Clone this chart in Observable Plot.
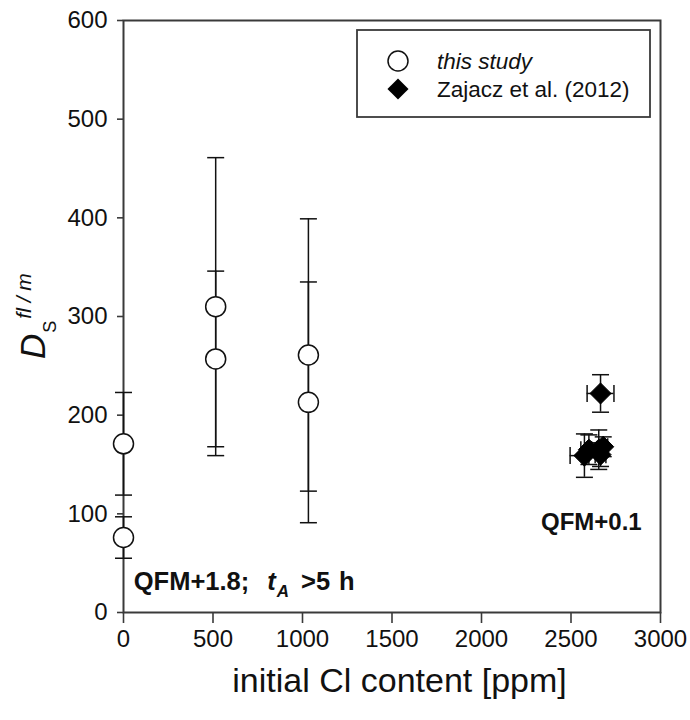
<!DOCTYPE html>
<html>
<head>
<meta charset="utf-8">
<script src="https://cdn.jsdelivr.net/npm/d3@7"></script>
<script src="https://cdn.jsdelivr.net/npm/@observablehq/plot@0.6"></script>
<style>
  body { margin: 0; background: #fff; }
  #chart svg { display: block; }
</style>
</head>
<body>
<div id="chart"></div>
<script>
// Experimental fluid/melt S partitioning, this study (open circles)
const studyCl = [0, 0, 515, 515, 1033, 1033];
const studyD = [171, 76, 310, 257, 261, 213];
const studyErr = [52, 21, 151, 89, 138, 122];

// Zajacz et al. (2012) (filled diamonds)
const zajCl = [2665, 2575, 2600, 2655, 2665, 2680];
const zajD = [222, 159, 165, 165, 160, 168];
const zajErrCl = [75, 80, 45, 40, 30, 25];
const zajErrD = [19, 22, 15, 20, 12, 10];

const xTicks = [0, 500, 1000, 1500, 2000, 2500, 3000];
const yTicks = [0, 100, 200, 300, 400, 500, 600];
const seriesNames = ["this study", "Zajacz et al. (2012)"];

const study = studyCl.map((x, i) => ({x, y: studyD[i], e: studyErr[i]}));
const zaj = zajCl.map((x, i) => ({x, y: zajD[i], ex: zajErrCl[i], ey: zajErrD[i]}));

const FONT = "'Liberation Sans', Arial, Helvetica, sans-serif";
const INK = "#111";

// error-bar caps drawn as fixed-size pixel symbols
const hCap = {draw(ctx) { ctx.moveTo(-8.5, 0); ctx.lineTo(8.5, 0); }};
const vCap = {draw(ctx) { ctx.moveTo(0, -8.5); ctx.lineTo(0, 8.5); }};
const bar = {stroke: INK, strokeWidth: 1.5};

const chart = Plot.plot({
  width: 690,
  height: 720,
  marginLeft: 123,
  marginRight: 30,
  marginTop: 20,
  marginBottom: 108,
  style: {fontFamily: FONT, color: INK, background: "#fff"},
  x: {domain: [0, 3000], label: null},
  y: {domain: [0, 600], label: null},
  marks: [
    Plot.frame({stroke: "#3a3a3a", strokeWidth: 2}),
    Plot.axisX({ticks: xTicks, tickSize: 11, tickPadding: 6, fontSize: 24, tickFormat: d => String(d),
                stroke: "#3a3a3a", strokeWidth: 1.6, label: null}),
    Plot.axisY({ticks: yTicks, tickSize: 6, tickPadding: 10, fontSize: 24, tickFormat: d => String(d),
                stroke: "#3a3a3a", strokeWidth: 1.6, label: null}),

    // this study: vertical error bars, caps, open circles
    Plot.ruleX(study, {x: "x", y1: d => d.y - d.e, y2: d => d.y + d.e, ...bar}),
    Plot.dot(study, {x: "x", y: d => d.y + d.e, symbol: hCap, r: 5, fill: "none", ...bar}),
    Plot.dot(study, {x: "x", y: d => d.y - d.e, symbol: hCap, r: 5, fill: "none", ...bar}),
    Plot.dot(study, {x: "x", y: "y", r: 10, symbol: "circle", fill: "#fff", stroke: INK, strokeWidth: 1.5}),

    // Zajacz et al. (2012): x and y error bars, caps, filled diamonds
    Plot.ruleX(zaj, {x: "x", y1: d => d.y - d.ey, y2: d => d.y + d.ey, ...bar}),
    Plot.ruleY(zaj, {y: "y", x1: d => d.x - d.ex, x2: d => d.x + d.ex, ...bar}),
    Plot.dot(zaj, {x: "x", y: d => d.y + d.ey, symbol: hCap, r: 5, fill: "none", ...bar}),
    Plot.dot(zaj, {x: "x", y: d => d.y - d.ey, symbol: hCap, r: 5, fill: "none", ...bar}),
    Plot.dot(zaj, {x: d => d.x - d.ex, y: "y", symbol: vCap, r: 5, fill: "none", ...bar}),
    Plot.dot(zaj, {x: d => d.x + d.ex, y: "y", symbol: vCap, r: 5, fill: "none", ...bar}),
    Plot.dot(zaj, {x: "x", y: "y", r: 9.5, symbol: "diamond2", fill: "#000", stroke: "#000", strokeWidth: 1}),

    // oxygen-fugacity note for the Zajacz runs
    Plot.text(["QFM+0.1"], {x: 2895, y: 84, text: d => d, textAnchor: "end", lineAnchor: "bottom",
                            fontSize: 24, fontWeight: "bold", fill: INK})
  ]
});

document.getElementById("chart").appendChild(chart);

const svg = d3.select(chart);
const xs = chart.scale("x"), ys = chart.scale("y");
const [frameLeft, frameRight] = xs.range;
const [frameBottom, frameTop] = ys.range;
const midX = (frameLeft + frameRight) / 2, midY = (frameBottom + frameTop) / 2;

// oxygen fugacity / annealing-time note for this study
const note = svg.append("text")
  .attr("x", xs.apply(60)).attr("y", ys.apply(22))
  .attr("text-anchor", "start")
  .attr("font-family", FONT).attr("font-size", 25.5).attr("font-weight", "bold").attr("fill", INK);
note.append("tspan").text("QFM+1.8;");
note.append("tspan").attr("dx", 18).attr("font-style", "italic").text("t");
note.append("tspan").attr("dx", 1).attr("font-style", "italic").attr("font-size", 17).attr("dy", 7).text("A");
note.append("tspan").attr("dx", 12).attr("dy", -7).text(">5");
note.append("tspan").attr("dx", 9).text("h");

// x-axis title
svg.append("text")
  .attr("x", midX + 8).attr("y", frameBottom + 80)
  .attr("text-anchor", "middle")
  .attr("font-family", FONT).attr("font-size", 34).attr("fill", INK)
  .text("initial Cl content [ppm]");

// y-axis title: D_S^(fl/m)
const yLab = svg.append("text")
  .attr("transform", `translate(${frameLeft - 78},${midY + 43}) rotate(-90)`)
  .attr("text-anchor", "start")
  .attr("font-family", FONT).attr("fill", INK);
yLab.append("tspan").attr("font-size", 35).attr("font-style", "italic").text("D");
yLab.append("tspan").attr("font-size", 18).attr("dy", 11).attr("dx", 1).text("S");
yLab.append("tspan").attr("font-size", 21).attr("font-style", "italic").attr("dy", -25).attr("dx", 2).text("fl / m");

// legend box in the upper-right corner of the frame
const lg = svg.append("g").attr("transform", `translate(${frameRight - 303},${frameTop + 10})`);
lg.append("rect").attr("width", 293).attr("height", 87)
  .attr("fill", "#fff").attr("stroke", "#3a3a3a").attr("stroke-width", 1.8);
lg.append("circle").attr("cx", 41).attr("cy", 31).attr("r", 10)
  .attr("fill", "#fff").attr("stroke", INK).attr("stroke-width", 1.5);
lg.append("path").attr("transform", "translate(41,59)")
  .attr("d", d3.symbol(d3.symbolDiamond2, Math.PI * 9.5 * 9.5)())
  .attr("fill", "#000");
lg.append("text").attr("x", 80).attr("y", 39).attr("text-anchor", "start")
  .attr("font-family", FONT).attr("font-size", 22.5).attr("font-style", "italic").attr("fill", INK)
  .text(seriesNames[0]);
lg.append("text").attr("x", 80).attr("y", 67).attr("text-anchor", "start")
  .attr("font-family", FONT).attr("font-size", 22.5).attr("fill", INK)
  .text(seriesNames[1]);
</script>
</body>
</html>
